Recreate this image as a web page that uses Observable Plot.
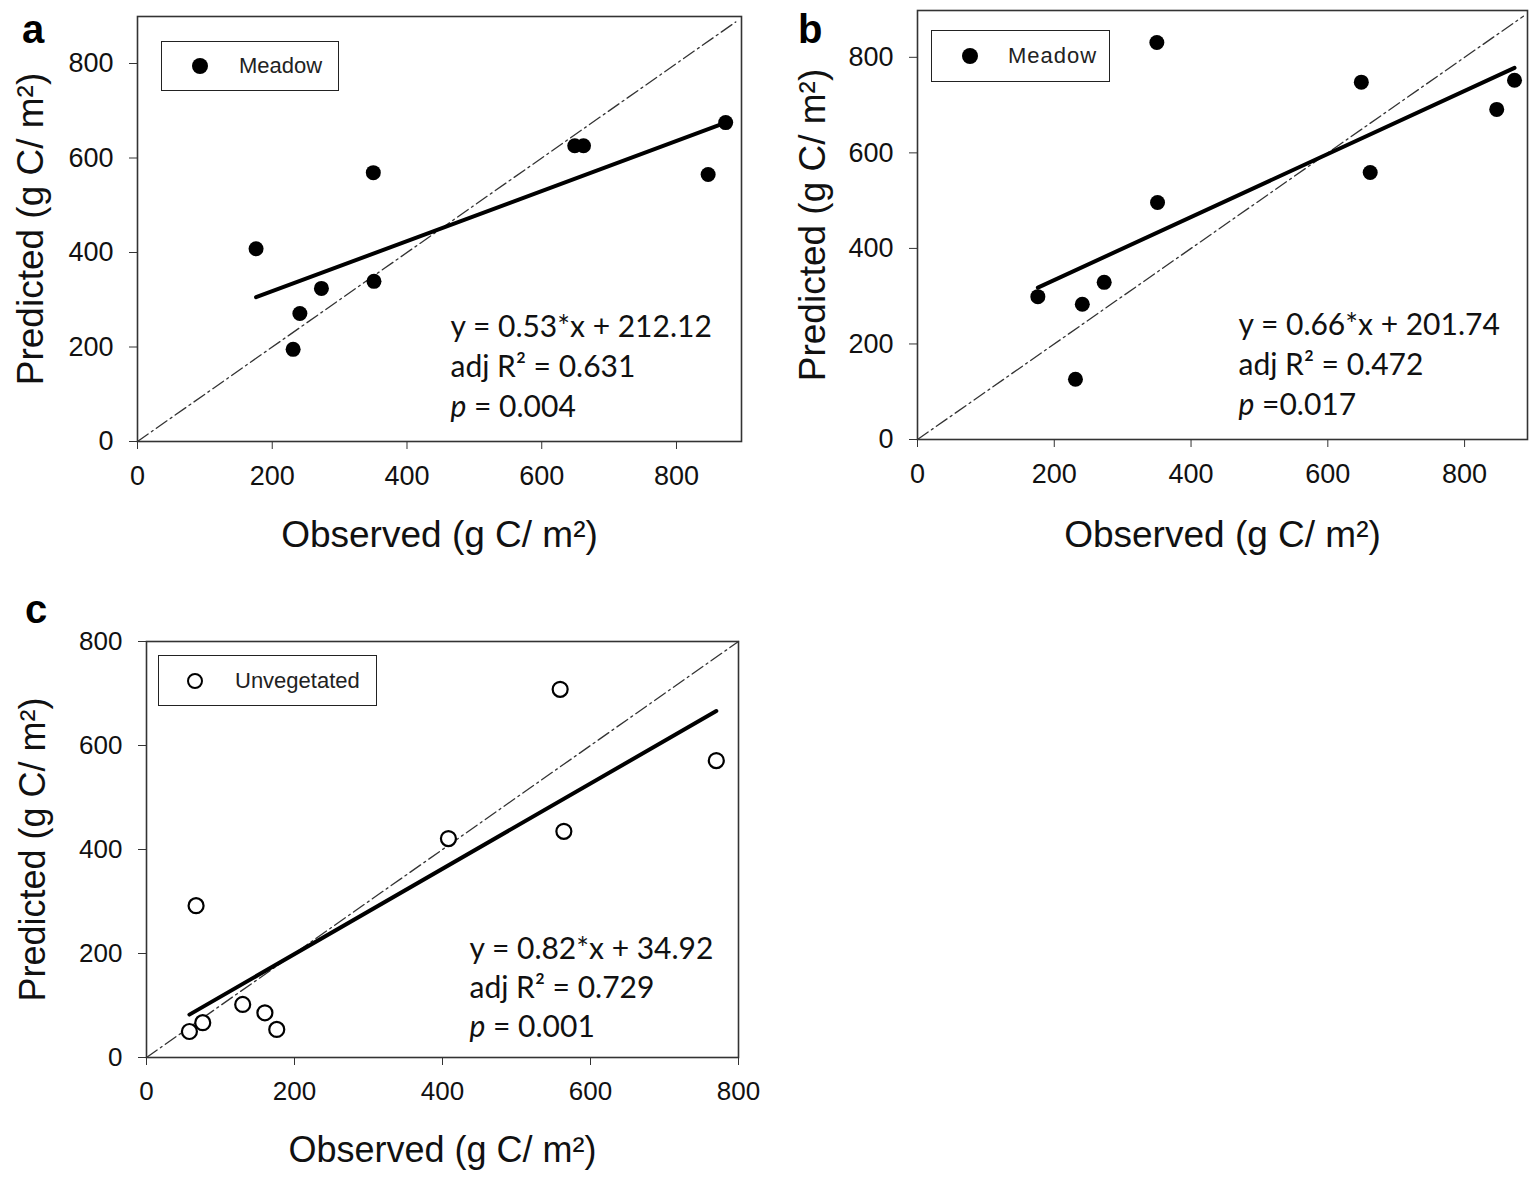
<!DOCTYPE html>
<html>
<head>
<meta charset="utf-8">
<script src="https://cdn.jsdelivr.net/npm/d3@7"></script>
<script src="https://cdn.jsdelivr.net/npm/@observablehq/plot@0.6"></script>
<style>
  body { margin: 0; background: #fff; }
  #root { position: relative; width: 1536px; height: 1178px; font-family: "Liberation Sans", Arial, sans-serif; color: #111; overflow: hidden; }
  .panel { position: absolute; }
  .letter { position: absolute; font-weight: bold; font-size: 40px; line-height: 1; color: #000; }
  .legend { position: absolute; border: 1.5px solid #222; box-sizing: border-box; display: flex; align-items: center; font-size: 22px; color: #222; background: #fff; }
  .legend .mk { width: 16px; height: 16px; border-radius: 50%; background: #000; box-sizing: border-box; flex: none; }
  .legend .mk.open { background: #fff; border: 2.2px solid #000; }
</style>
</head>
<body>
<div id="root"></div>
<script>
// ---------- data ----------
const meadowObserved   = [176, 241, 231, 273, 350, 351, 649, 662, 847, 873];
const predictedA       = [408, 271, 195, 324, 569, 339, 626, 626, 565, 675];
const predictedB       = [299, 283, 126, 329, 831, 496, 748, 559, 691, 752];
const unvegObserved    = [67, 58, 76, 130, 160, 176, 408, 559, 564, 770];
const predictedC       = [292, 50, 67, 102, 86, 54, 421, 708, 435, 571];

const fitA = {slope: 0.53, intercept: 212.12};
const fitB = {slope: 0.66, intercept: 201.74};
const fitC = {slope: 0.82, intercept: 34.92};

const statsA = ["y = 0.53*x + 212.12", "adj R² = 0.631", "p = 0.004"];
const statsB = ["y = 0.66*x + 201.74", "adj R² = 0.472", "p =0.017"];
const statsC = ["y = 0.82*x + 34.92",  "adj R² = 0.729", "p = 0.001"];

const tickValues = [0, 200, 400, 600, 800];
const xTitle = "Observed (g C/ m²)";
const yTitle = "Predicted (g C/ m²)";
const legendLabels = ["Meadow", "Meadow", "Unvegetated"];
const panelLetters = ["a", "b", "c"];

// ---------- drawing ----------
const root = document.getElementById("root");
const AXISFONT = "'Liberation Sans', Arial, sans-serif";
const ANNFONT = "Lato, 'Open Sans', sans-serif";

function panel(cfg) {
  const pts = cfg.obs.map((o, i) => ({o, p: cfg.pred[i]}));
  const lo = d3.min(cfg.obs), hi = d3.max(cfg.obs);
  const fitLine = [lo, hi].map(o => ({o, p: cfg.fit.slope * o + cfg.fit.intercept}));
  const diag = [0, cfg.diagMax].map(v => ({o: v, p: v}));
  const plot = Plot.plot({
    width: cfg.width,
    height: cfg.height,
    marginLeft: cfg.m[3], marginRight: cfg.m[1], marginTop: cfg.m[0], marginBottom: cfg.m[2],
    x: {domain: cfg.xDomain},
    y: {domain: cfg.yDomain},
    style: {fontFamily: AXISFONT, color: "#111", background: "transparent", overflow: "visible"},
    marks: [
      Plot.axisX({ticks: tickValues, tickSize: 8, tickPadding: 16, fontSize: cfg.tickFont, label: null, tickFormat: d => String(d), stroke: "#333"}),
      Plot.axisY({ticks: tickValues, tickSize: 8, tickPadding: 16, fontSize: cfg.tickFont, label: null, tickFormat: d => String(d), stroke: "#333"}),
      Plot.line(diag, {x: "o", y: "p", stroke: "#333", strokeWidth: 1.3, strokeDasharray: "13 4 2 4"}),
      Plot.line(fitLine, {x: "o", y: "p", stroke: "#000", strokeWidth: 4}),
      Plot.dot(pts, cfg.open
        ? {x: "o", y: "p", r: 7.5, fill: "#fff", stroke: "#000", strokeWidth: 2.2}
        : {x: "o", y: "p", r: 7.5, fill: "#000", stroke: "none"}),
      Plot.frame({stroke: "#333", strokeWidth: 1.6}),
      Plot.text([yTitle], {frameAnchor: "left", textAnchor: "middle", lineAnchor: "middle", rotate: -90, dx: cfg.yTitleDx, fontSize: cfg.titleFont, fill: "#111"}),
      Plot.text([xTitle], {frameAnchor: "bottom", textAnchor: "middle", lineAnchor: "middle", dy: cfg.xTitleDy, fontSize: cfg.titleFont, fill: "#111"}),
      ...cfg.stats.map((s, i) => Plot.text([s], {
        frameAnchor: "top-left", textAnchor: "start", lineAnchor: "middle",
        dx: cfg.annDx, dy: cfg.annDy[i], fontSize: 30, fontFamily: ANNFONT, fill: "#111"
      }))
    ]
  });
  // italic "p"
  d3.select(plot).selectAll("text").each(function() {
    const t = this.textContent;
    if (/^p\s?=/.test(t)) {
      const el = d3.select(this);
      el.text(null);
      el.append("tspan").attr("font-style", "italic").text("p");
      el.append("tspan").text(t.slice(1));
    }
  });
  const div = document.createElement("div");
  div.className = "panel";
  div.style.left = cfg.left + "px";
  div.style.top = cfg.top + "px";
  div.appendChild(plot);
  root.appendChild(div);
}

panel({
  obs: meadowObserved, pred: predictedA, fit: fitA, stats: statsA, open: false,
  left: 0, top: 0, width: 760, height: 580, m: [16, 19, 139, 137],
  xDomain: [0, 896.5], yDomain: [0, 899.5], diagMax: 888,
  tickFont: 27, titleFont: 37, yTitleDx: -106, xTitleDy: 94,
  annDx: 313, annDy: [311, 351, 391]
});
panel({
  obs: meadowObserved, pred: predictedB, fit: fitB, stats: statsB, open: false,
  left: 760, top: 0, width: 776, height: 580, m: [10, 9, 141, 157],
  xDomain: [0, 892], yDomain: [0, 898], diagMax: 886,
  tickFont: 27, titleFont: 37, yTitleDx: -104, xTitleDy: 96,
  annDx: 321, annDy: [315, 355, 395]
});
panel({
  obs: unvegObserved, pred: predictedC, fit: fitC, stats: statsC, open: true,
  left: 0, top: 580, width: 760, height: 598, m: [61, 22, 121, 146],
  xDomain: [0, 800], yDomain: [0, 800], diagMax: 800,
  tickFont: 26, titleFont: 36, yTitleDx: -113, xTitleDy: 93,
  annDx: 323, annDy: [308, 347, 386]
});

// panel letters
const letterPos = [[22, 9], [798, 9], [25, 589]];
panelLetters.forEach((l, i) => {
  const d = document.createElement("div");
  d.className = "letter";
  d.textContent = l;
  d.style.left = letterPos[i][0] + "px";
  d.style.top = letterPos[i][1] + "px";
  root.appendChild(d);
});

// legends
const legendBoxes = [
  {left: 161, top: 41, w: 178, h: 50, ml: 30, gap: 31, open: false, ls: 0},
  {left: 931, top: 30, w: 179, h: 52, ml: 30, gap: 30, open: false, ls: 1},
  {left: 158, top: 655, w: 219, h: 51, ml: 28, gap: 32, open: true, ls: 0}
];
legendBoxes.forEach((b, i) => {
  const d = document.createElement("div");
  d.className = "legend";
  Object.assign(d.style, {left: b.left + "px", top: b.top + "px", width: b.w + "px", height: b.h + "px"});
  const mk = document.createElement("span");
  mk.className = "mk" + (b.open ? " open" : "");
  mk.style.marginLeft = b.ml + "px";
  mk.style.marginRight = b.gap + "px";
  const tx = document.createElement("span");
  tx.textContent = legendLabels[i];
  tx.style.letterSpacing = b.ls + "px";
  d.appendChild(mk); d.appendChild(tx);
  root.appendChild(d);
});
</script>
</body>
</html>
